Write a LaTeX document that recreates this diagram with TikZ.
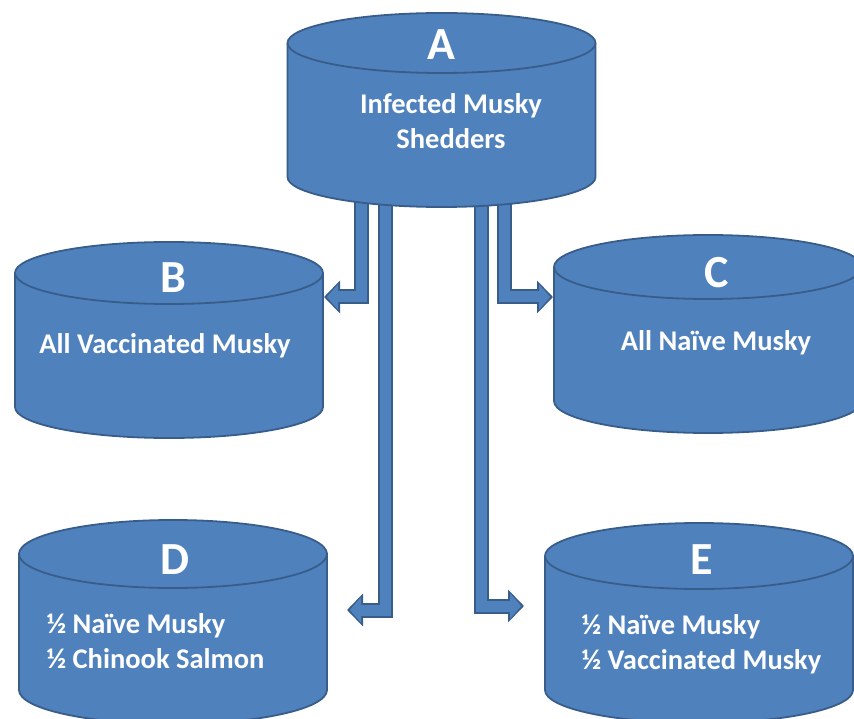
\documentclass[tikz,border=0pt]{standalone}
\usepackage{fontspec}
\setmainfont{Carlito}
\usetikzlibrary{arrows.meta, positioning}
\definecolor{TankBlue}{HTML}{4F81BD}
\definecolor{TankEdge}{HTML}{385D8A}

% #1 centre coordinate, #2 half height of the body, #3 y radius of the ends
\newcommand{\drawtank}[3]{%
  \filldraw[tankline] ([shift={(-154,#2)}]#1) -- ++(0,-2*#2)
    arc[start angle=180, end angle=360, x radius=154, y radius=#3]
    -- ++(0,2*#2)
    arc[start angle=0, end angle=180, x radius=154, y radius=#3] -- cycle;
  \draw[tankline] ([shift={(-154,#2)}]#1)
    arc[start angle=180, end angle=360, x radius=154, y radius=#3];
}

\begin{document}
\begin{tikzpicture}[
  x=1pt, y=1pt,
  tankline/.style={draw=TankEdge, fill=TankBlue, line width=1.8pt},
  tag/.style={text=white, font=\bfseries\fontsize{46}{46}\selectfont},
  info/.style={text=white, font=\bfseries\fontsize{28.5}{35}\selectfont, align=center},
  infoleft/.style={info, align=left, anchor=west},
  flow/.style={draw=TankBlue, line width=11pt, shorten >=2.8pt,
    -{Triangle[length=11.2pt, width=25pt]},
    preaction={draw=TankEdge, line width=15pt, shorten >=0pt,
      -{Triangle[length=16pt, width=32pt]}}}
]
  \useasboundingbox (0,0) rectangle (854,-719);

  % Tank centres
  \coordinate (A) at (441.5,-110);
  \coordinate (B) at (169,-340);
  \coordinate (C) at (708,-334);
  \coordinate (D) at (173,-622);
  \coordinate (E) at (699,-623);

  % Flows out of the shedder tank (drawn first, so A covers their tops)
  \draw[flow] ([xshift=-80pt]A) |- ([xshift=155pt, yshift=43pt]B);
  \draw[flow] ([xshift=-56pt]A) |- ([xshift=174pt, yshift=12pt]D);
  \draw[flow] ([xshift=40pt]A) |- ([xshift=-175pt, yshift=17pt]E);
  \draw[flow] ([xshift=63pt]A) |- ([xshift=-155pt, yshift=37pt]C);

  % Tanks
  \drawtank{A}{67}{30}
  \drawtank{B}{67}{31}
  \drawtank{C}{67}{32}
  \drawtank{D}{68}{34}
  \drawtank{E}{67}{33}

  % Letters
  \node[tag] (tagA) at (441,-45) {A};
  \node[tag] (tagB) at (173,-278) {B};
  \node[tag] (tagC) at (717,-273) {C};
  \node[tag] (tagD) at (175,-560) {D};
  \node[tag] (tagE) at (702,-560) {E};

  % Contents
  \node[info] (infoA) at (451,-121) {Infected Musky\\Shedders};
  \node[info] (infoB) at (165,-346) {All Vaccinated Musky};
  \node[info] (infoC) at (716,-343) {All Naïve Musky};
  \node[infoleft] (infoD) at (43,-641) {½ Naïve Musky\\½ Chinook Salmon};
  \node[infoleft] (infoE) at (578,-644) {½ Naïve Musky\\½ Vaccinated Musky};
\end{tikzpicture}
\end{document}
